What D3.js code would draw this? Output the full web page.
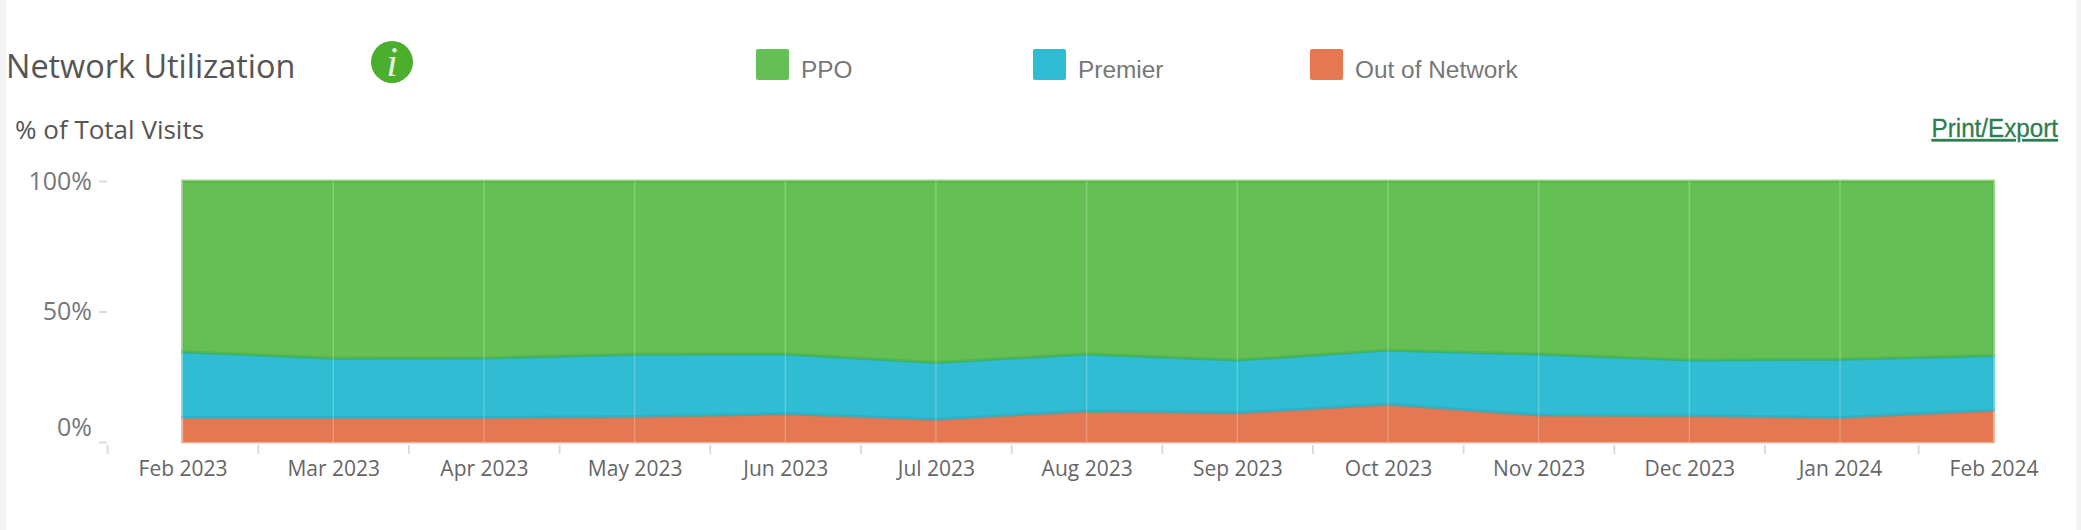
<!DOCTYPE html>
<html lang="en">
<head>
    <meta charset="UTF-8">
    <title>Network Utilization</title>
    <script src="https://d3js.org/d3.v7.min.js"></script>
    <style>
        html, body { margin: 0; padding: 0; background: #fff; overflow: hidden; }
        svg { display: block; }
        text { font-family: "Open Sans", sans-serif; }
        .title { font-size: 32.4px; fill: #555; }
        .subtitle { font-size: 26px; fill: #555; }
        .legend-label { font-family: "Liberation Sans", Arial, sans-serif; font-size: 24.4px; fill: #777; }
        .export { font-family: "Liberation Sans", sans-serif; font-size: 25px; fill: #2f7d50; stroke: #2f7d50; stroke-width: 0.3; text-decoration: underline; }
        .y-axis text { font-size: 25px; fill: #777; }
        .x-axis text { font-size: 21px; fill: #666; }
        .y-axis line, .x-axis line { stroke: #ddd; stroke-width: 2; }
        .grid { stroke: #fff; stroke-opacity: 0.22; stroke-width: 1.5; }
    </style>
</head>
<body>
    <svg id="chart" width="2081" height="530"></svg>
    <script>
        const months = ["Feb 2023", "Mar 2023", "Apr 2023", "May 2023", "Jun 2023", "Jul 2023", "Aug 2023",
                        "Sep 2023", "Oct 2023", "Nov 2023", "Dec 2023", "Jan 2024", "Feb 2024"];
        const outOfNetwork = [9.4, 9.4, 9.4, 9.8, 10.8, 8.7, 11.9, 11.2, 14.5, 10.3, 10.1, 9.4, 12.2];
        const premier = [25.2, 22.7, 22.8, 23.8, 22.9, 21.8, 21.8, 20.2, 20.7, 23.4, 21.3, 22.3, 20.9];
        const ppo = [65.4, 67.9, 67.8, 66.4, 66.3, 69.5, 66.3, 68.6, 64.8, 66.3, 68.6, 68.3, 66.9];
        const seriesNames = ["Out of Network", "Premier", "PPO"];
        const yTicks = [0, 50, 100];

        const fills = { "PPO": "#66bf55", "Premier": "#30bdd3", "Out of Network": "#e37853" };
        const edges = { "PPO": "#45ae32", "Premier": "#10aecb", "Out of Network": "#e37853" };

        const svg = d3.select("#chart");

        // the last month sits a little further out than the others
        const x = d3.scaleLinear().domain([0, 11, 12]).range([182.6, 1840, 1993.6]);
        const y = d3.scaleLinear().domain([0, 100]).range([442, 181]);

        const rows = months.map((m, i) => ({
            index: i,
            "Out of Network": outOfNetwork[i],
            "Premier": premier[i],
            "PPO": ppo[i]
        }));
        const stacked = d3.stack().keys(seriesNames)(rows);

        // page edges
        svg.append("rect").attr("width", 6).attr("height", 530).attr("fill", "#f3f3f3");
        svg.append("rect").attr("x", 2076.6).attr("width", 4.4).attr("height", 530).attr("fill", "#f3f3f3");

        // header
        svg.append("text").attr("class", "title").attr("x", 6).attr("y", 78).text("Network Utilization");
        svg.append("circle").attr("cx", 392).attr("cy", 62).attr("r", 21).attr("fill", "#4bae2c");
        svg.append("text").attr("x", 392).attr("y", 76).attr("text-anchor", "middle")
            .style("font-family", "Liberation Serif").style("font-style", "italic")
            .style("font-size", "42px").attr("fill", "#fff").attr("fill-opacity", 0.85).text("i");
        svg.append("text").attr("class", "subtitle").attr("x", 15).attr("y", 139).text("% of Total Visits");
        svg.append("text").attr("class", "export").attr("x", 1931.6).attr("y", 137)
            .attr("textLength", 126.4).attr("lengthAdjust", "spacingAndGlyphs").text("Print/Export");

        // legend
        const legendX = d3.scalePoint().domain(["PPO", "Premier", "Out of Network"]).range([756, 1310]);
        const legend = svg.append("g").selectAll("g").data(legendX.domain()).join("g")
            .attr("transform", d => `translate(${legendX(d)},49)`);
        legend.append("rect").attr("width", 33).attr("height", 31).attr("rx", 2).attr("fill", d => fills[d]);
        legend.append("text").attr("class", "legend-label").attr("x", 45).attr("y", 29).text(d => d);

        // areas, each with a half transparent outline that spills onto its neighbour
        const area = d3.area().x(d => x(d.data.index)).y0(d => y(d[0])).y1(d => y(d[1]));

        svg.append("g").selectAll("path").data(stacked).join("path")
            .attr("d", area)
            .attr("fill", d => fills[d.key])
            .attr("stroke", d => edges[d.key])
            .attr("stroke-opacity", 0.55)
            .attr("stroke-width", 3);

        svg.append("g").selectAll("line").data(months).join("line")
            .attr("class", "grid")
            .attr("x1", (d, i) => x(i)).attr("x2", (d, i) => x(i))
            .attr("y1", y(100)).attr("y2", y(0));

        // axes
        const yAxis = svg.append("g").attr("class", "y-axis")
            .attr("transform", "translate(107,0)")
            .call(d3.axisLeft(y).tickValues(yTicks).tickFormat(d => d + "%").tickSize(8).tickPadding(7));
        yAxis.select(".domain").remove();
        yAxis.selectAll(".tick text").filter(d => d === 0).attr("dy", "-0.26em");

        const xAxis = svg.append("g").attr("class", "x-axis")
            .attr("transform", "translate(0,442)")
            .call(d3.axisBottom(x).tickValues(d3.range(months.length)).tickFormat(i => months[i]).tickSize(12).tickPadding(7));
        xAxis.select(".domain").remove();
        xAxis.selectAll(".tick line")
            .attr("x1", -75.5).attr("x2", -75.5)
            .attr("y1", 3).attr("y2", 12);
    </script>
</body>
</html>
